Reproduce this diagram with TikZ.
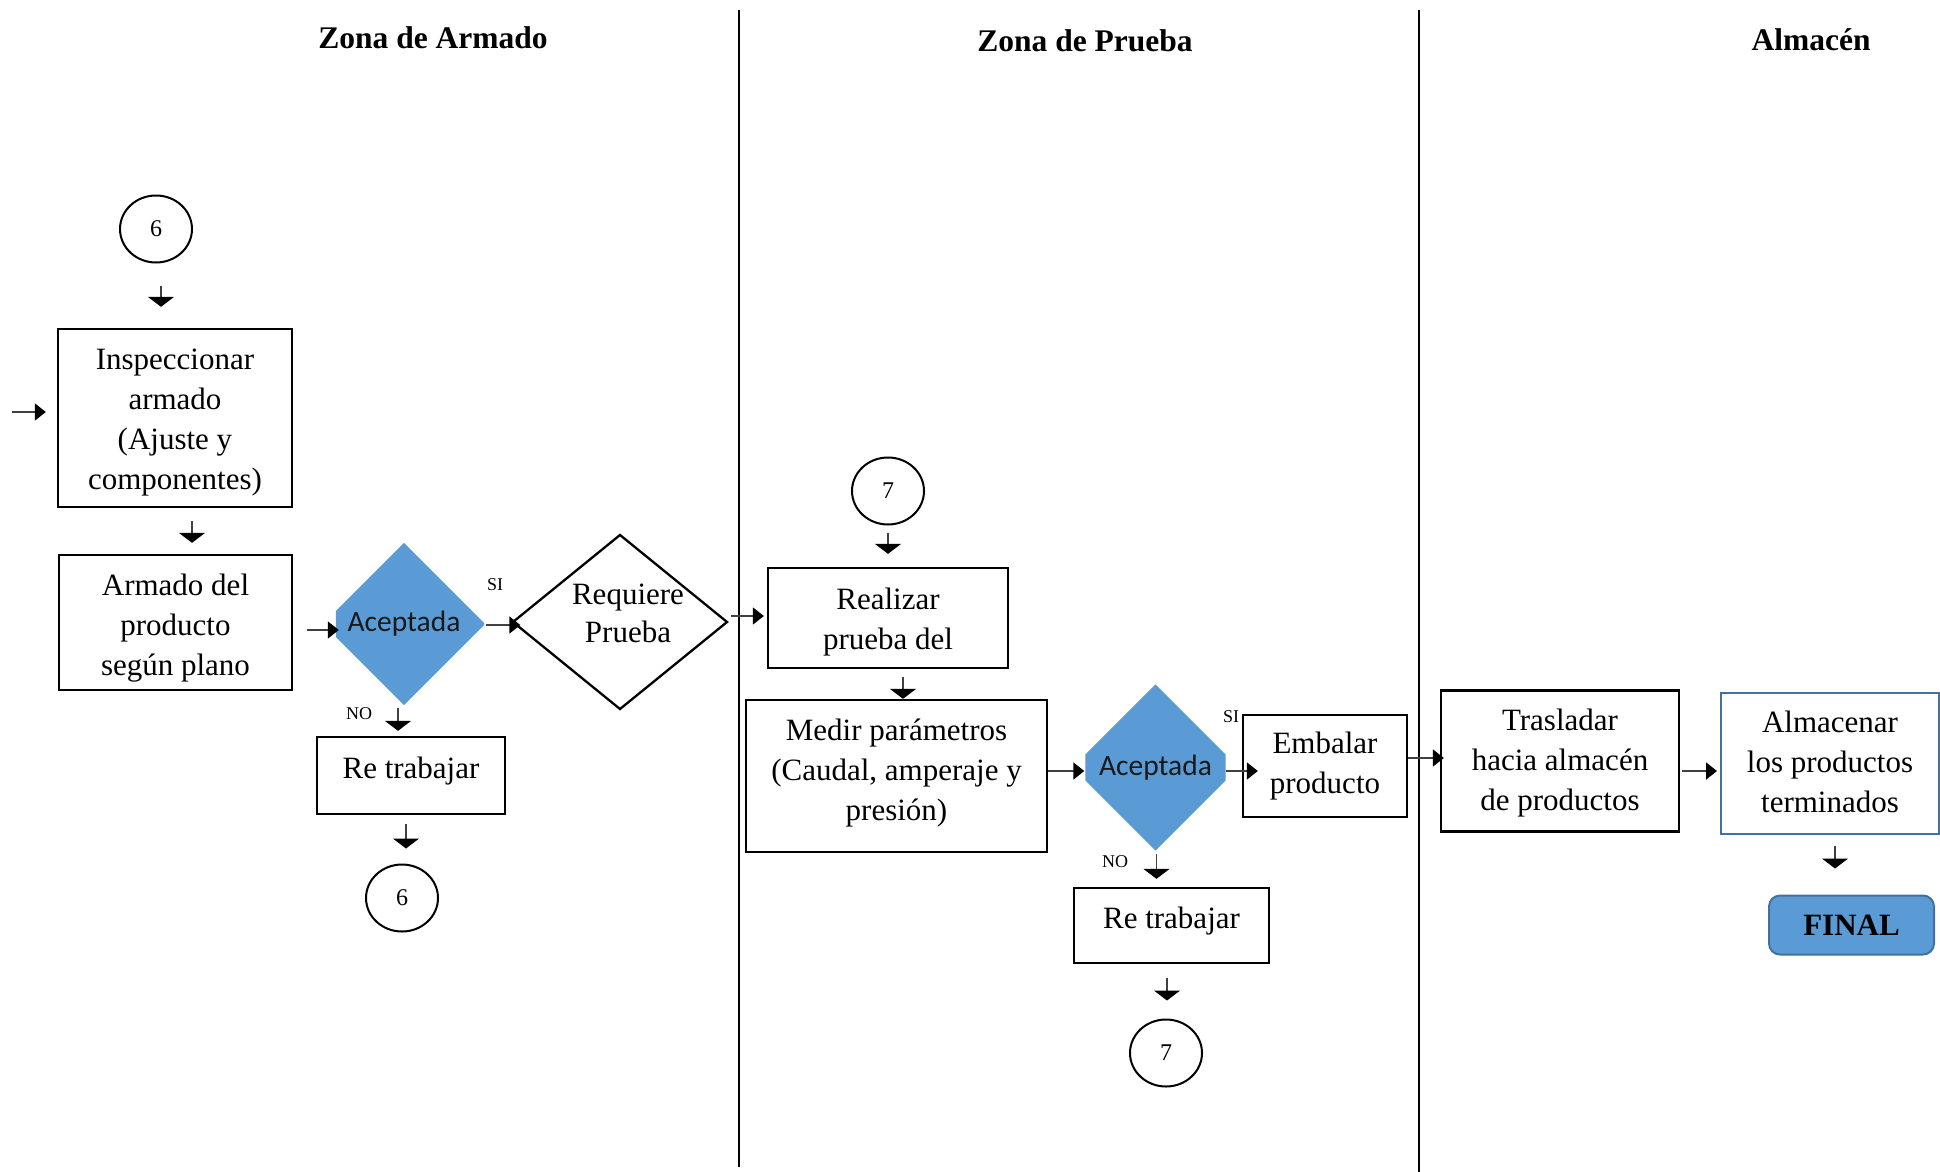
\documentclass[tikz,border=0pt]{standalone}
\usepackage{fontspec}
\setmainfont{Liberation Serif}
\newfontfamily\calibrifont{Carlito}
\usetikzlibrary{arrows.meta,shapes.geometric,backgrounds}
\definecolor{officeblue}{HTML}{5B9BD5}
\definecolor{officeedge}{HTML}{41719C}
\begin{document}
\begin{tikzpicture}[x=1pt,y=-1pt,
  box/.style={draw, line width=2.3pt, align=center, inner sep=0pt,
    font=\fontsize{31}{40}\selectfont},
  boxtext/.style={align=center, inner sep=0pt, font=\fontsize{31}{40}\selectfont},
  conn/.style={ellipse, draw, line width=2pt, minimum width=72pt,
    minimum height=67pt, inner sep=0pt, font=\fontsize{24}{26}\selectfont},
  arrd/.style={line width=1.5pt, draw=black!75,
    -{Triangle[width=26pt,length=10pt,color=black]}},
  arrh/.style={line width=1.5pt, draw=black!75,
    -{Triangle[width=17pt,length=11pt,color=black]}},
  tag/.style={font=\fontsize{18}{20}\selectfont, inner sep=0pt},
  lane/.style={line width=2.5pt},
  title/.style={font=\bfseries\fontsize{31.5}{34}\selectfont, inner sep=0pt},
  acc/.style={inner sep=0pt, font=\calibrifont\fontsize{29.5}{32}\selectfont,
    text=black!90},
  decision/.style={diamond, draw, line width=2.3pt, inner sep=0pt}
]
\useasboundingbox (0,0) rectangle (1940,1172);

% lane separators and headings
\draw[lane] (739,10) -- (739,1167);
\draw[lane] (1419,10) -- (1419,1172);
\node[title] (t1) at (433,38) {Zona de Armado};
\node[title] (t2) at (1085,41) {Zona de Prueba};
\node[title] (t3) at (1811,40) {Almacén};

% Zona de Armado
\node[conn] (c6a) at (156,229) {6};
\node[box, minimum width=234pt, minimum height=178pt] (ins) at (175,418) {};
\node[boxtext] (inst) at (175,423) {Inspeccionar\\armado\\(Ajuste y\\componentes)};
\node[box, minimum width=233pt, minimum height=135pt] (arm) at (175.5,622.5) {};
\node[boxtext] (armt) at (175.5,628.5) {Armado del\\producto\\según plano};
\node[acc, minimum width=160pt, minimum height=162pt] (d1) at (404,624) {Aceptada};
\node[decision, minimum width=215pt, minimum height=175pt] (req) at (620,622) {};
\node[align=center, inner sep=0pt, font=\fontsize{31}{38}\selectfont] (reqt)
  at (628,613) {Requiere\\Prueba};
\node[box, minimum width=188pt, minimum height=77pt, text height=17pt,
  text depth=12pt] (rt1) at (411,775.5) {Re trabajar};
\node[conn] (c6b) at (402,898) {6};
\node[tag] (si1) at (495,585) {SI};
\node[tag] (no1) at (359,714) {NO};

% Zona de Prueba
\node[conn] (c7a) at (888,491) {7};
\node[box, minimum width=240pt, minimum height=100pt] (real) at (888,618) {};
\node[boxtext] (realt) at (888,622) {Realizar\\prueba del};
\node[box, minimum width=301pt, minimum height=152pt] (med) at (896.5,776) {};
\node[boxtext] (medt) at (896.5,773.5) {Medir parámetros\\(Caudal, amperaje y\\presión)};
\node[acc, minimum width=140pt, minimum height=166pt] (d2) at (1155.5,767.5) {Aceptada};
\node[box, minimum width=164pt, minimum height=102pt] (emb) at (1325,766)
  {Embalar\\producto};
\node[box, minimum width=195pt, minimum height=75pt, text height=17pt,
  text depth=12pt] (rt2) at (1171.5,925.5) {Re trabajar};
\node[conn] (c7b) at (1166,1053) {7};
\node[tag] (si2) at (1231,717) {SI};
\node[tag] (no2) at (1115,862) {NO};

% Almacén
\node[box, minimum width=238pt, minimum height=141pt] (trs) at (1560,761) {};
\node[boxtext] (trst) at (1560,763.5) {Trasladar\\hacia almacén\\de productos};
\node[box, draw=officeedge, line width=2pt, minimum width=218pt,
  minimum height=141pt] (alm) at (1830,763.5) {};
\node[boxtext] (almt) at (1830,762) {Almacenar\\los productos\\terminados};
\node[draw=officeedge, fill=officeblue, line width=2pt, rounded corners=11pt,
  minimum width=165pt, minimum height=59pt, inner sep=0pt,
  font=\bfseries\fontsize{31}{34}\selectfont] (fin) at (1851.5,925) {FINAL};

% filled decision shapes, clipped at the sides
\begin{scope}[on background layer]
  \fill[white] (0,0) rectangle (1940,1172);
  \fill[officeblue] (d1.north) -- ([yshift=1pt]d1.east) -- ([yshift=-1pt]d1.east)
    -- (d1.south) -- ([xshift=12pt,yshift=-13pt]d1.west)
    -- ([xshift=12pt,yshift=13pt]d1.west) -- cycle;
  \fill[officeblue] (d2.north) -- ([yshift=13pt]d2.east) -- ([yshift=-13pt]d2.east)
    -- (d2.south) -- ([yshift=-13pt]d2.west) -- ([yshift=13pt]d2.west) -- cycle;
\end{scope}

% connectors
\coordinate (entry) at (12,412);
\draw[arrh, shorten >=11pt] (entry) -- (entry -| ins.west);
\draw[arrd, shorten <=22pt, shorten >=21pt] ([xshift=5pt]c6a.south) -- ([xshift=5pt]c6a.south |- ins.north);
\draw[arrd, shorten <=13pt, shorten >=11pt] ([xshift=17pt]ins.south) -- ([xshift=17pt]ins.south |- arm.north);
\draw[arrh, shorten <=14pt, shorten >=-15pt] ([yshift=-7.5pt]arm.east) -- ([yshift=-7.5pt]arm.east -| d1.west);
\draw[arrh, shorten <=2pt, shorten >=-9pt] ([yshift=-1pt]d1.east) -- ([yshift=-1pt]d1.east -| req.west);
\draw[arrd, shorten <=3pt, shorten >=5pt] ([xshift=-6pt]d1.south) -- ([xshift=-6pt]d1.south |- rt1.north);
\draw[arrd, shorten <=9pt, shorten >=15pt] ([xshift=-5pt]rt1.south) -- ([xshift=-5pt]rt1.south |- c6b.north);
\draw[arrh, shorten <=2pt, shorten >=3pt] ([yshift=6pt]req.east) -- ([yshift=6pt]req.east -| real.west);
\draw[arrd, shorten <=7pt, shorten >=13pt] (c7a.south) -- (c7a.south |- real.north);
\draw[arrd, shorten <=8pt] ([xshift=15pt]real.south) -- ([xshift=15pt]real.south |- med.north);
\draw[arrh, shorten >=1pt] ([yshift=5pt]med.east) -- ([yshift=5pt]med.east -| d2.west);
\draw[arrh, shorten >=-16pt] ([yshift=-3.5pt]d2.east) -- ([yshift=-3.5pt]d2.east -| emb.west);
\draw[arrd, shorten <=3.5pt, shorten >=8pt] ([xshift=1pt]d2.south) -- ([xshift=1pt]d2.south |- rt2.north);
\draw[arrd, shorten <=14pt, shorten >=18pt] ([xshift=-4.5pt]rt2.south) -- ([xshift=-4.5pt]rt2.south |- c7b.north);
\draw[arrh, shorten >=-4pt] ([yshift=8pt]emb.east) -- ([yshift=8pt]emb.east -| trs.west);
\draw[arrh, shorten <=2pt, shorten >=3pt] ([yshift=-10pt]trs.east) -- ([yshift=-10pt]trs.east -| alm.west);
\draw[arrd, shorten <=11pt, shorten >=26pt] ([xshift=5pt]alm.south) -- ([xshift=5pt]alm.south |- fin.north);
\end{tikzpicture}
\end{document}
